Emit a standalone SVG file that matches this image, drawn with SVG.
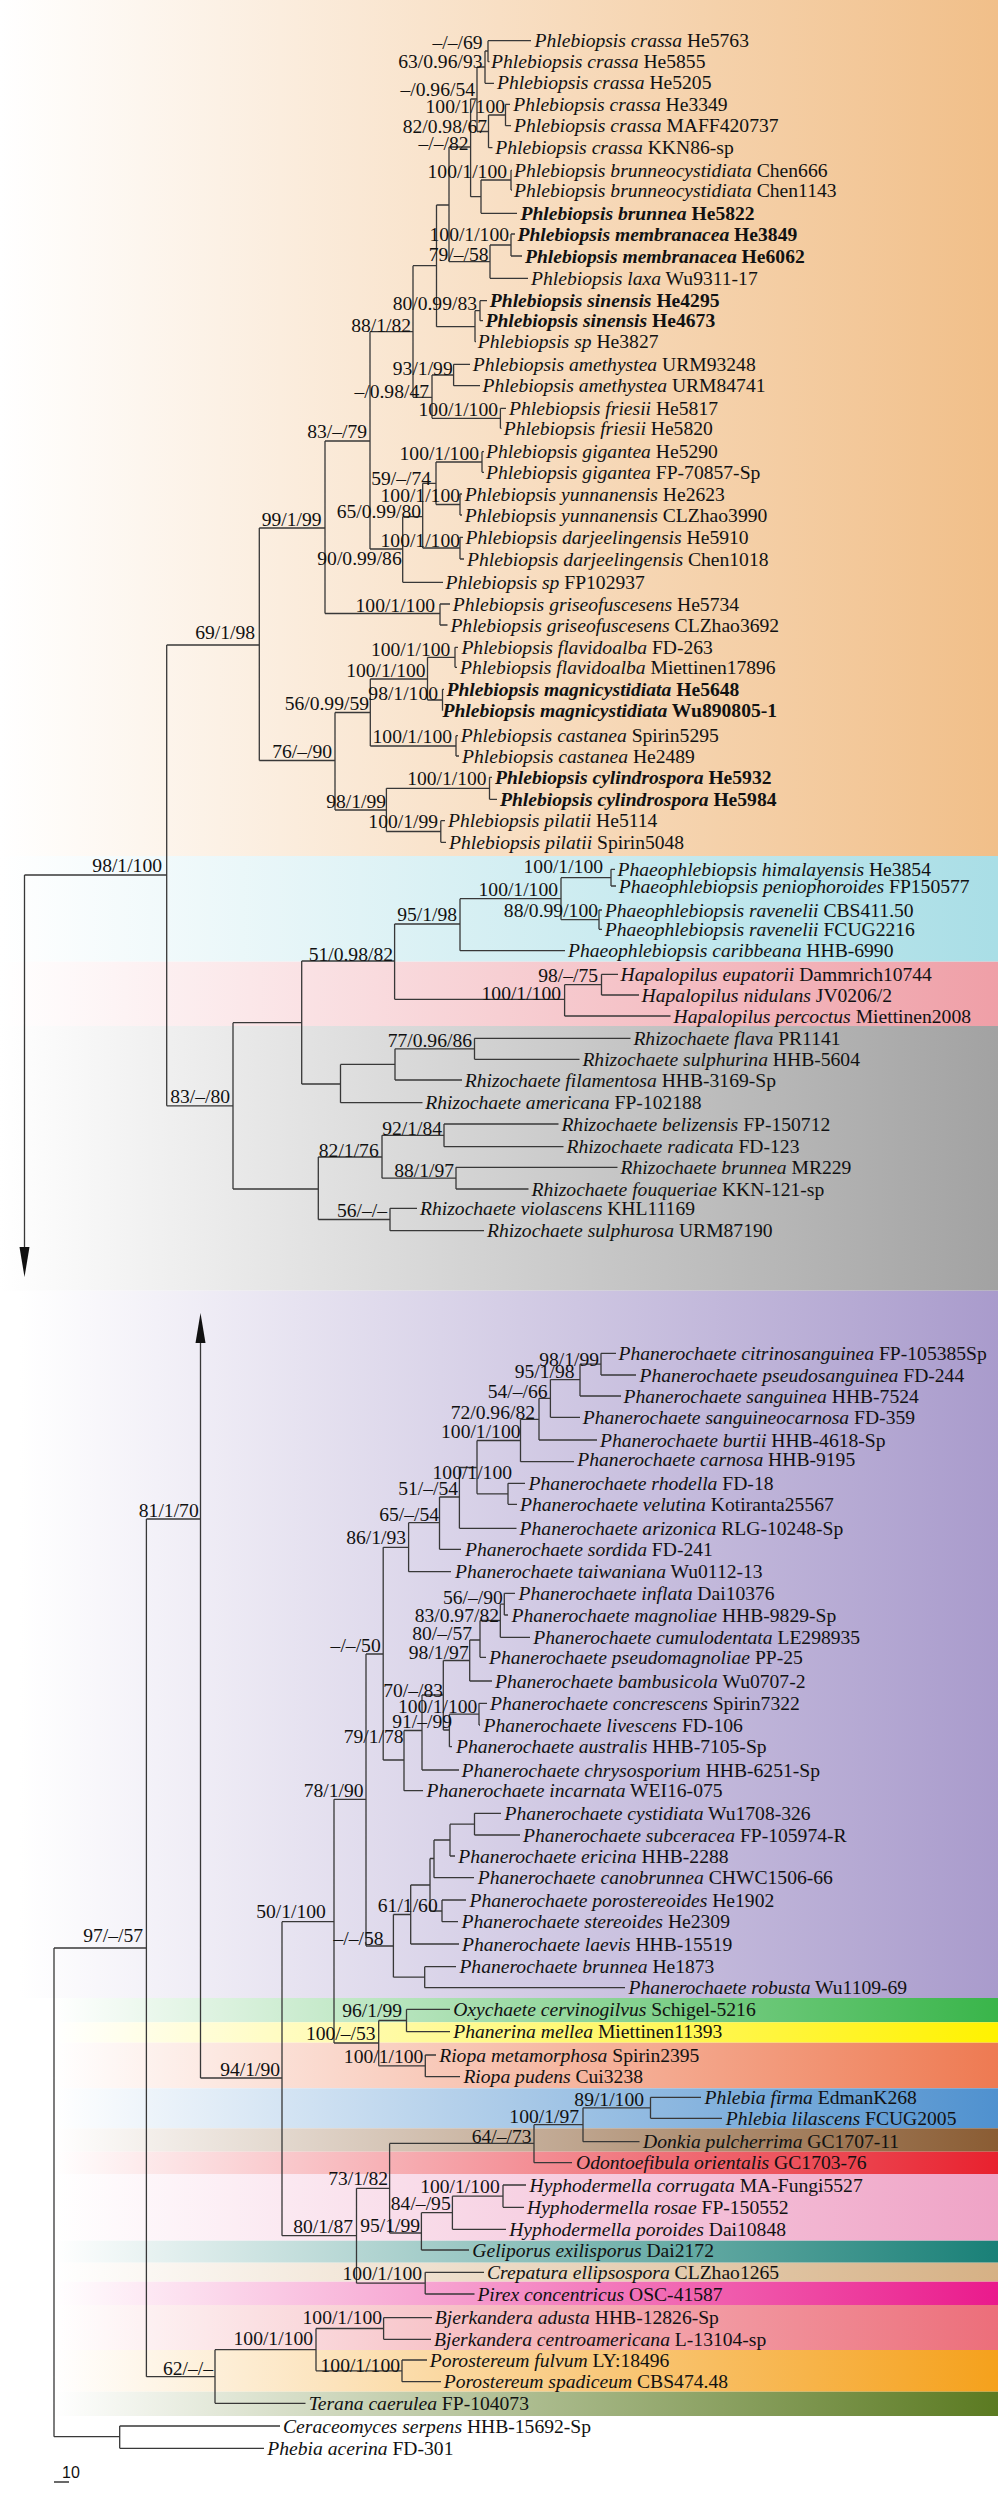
<svg xmlns="http://www.w3.org/2000/svg" width="998" height="2500" viewBox="0 0 998 2500">
<style>
.t{font-family:"Liberation Serif","Times New Roman",serif;font-size:19.6px;fill:#111}
.i{font-style:italic}
.b{font-weight:bold}
.s{font-family:"Liberation Serif","Times New Roman",serif;font-size:19.6px;fill:#111;text-anchor:end}
.c{fill:none;stroke:#383838;stroke-width:1.3}
</style>
<defs>
<linearGradient id="gOr" x1="0" x2="1" y1="0" y2="0"><stop offset="0" stop-color="#fff"/><stop offset="1" stop-color="#F1BF89"/></linearGradient>
<linearGradient id="gCy" x1="0" x2="1" y1="0" y2="0"><stop offset="0" stop-color="#fff"/><stop offset="1" stop-color="#A9DEE6"/></linearGradient>
<linearGradient id="gPk" x1="0" x2="1" y1="0" y2="0"><stop offset="0" stop-color="#fff"/><stop offset="1" stop-color="#EF9FA7"/></linearGradient>
<linearGradient id="gGy" x1="0" x2="1" y1="0" y2="0"><stop offset="0" stop-color="#fff"/><stop offset="1" stop-color="#A2A2A2"/></linearGradient>
<linearGradient id="gPu" x1="0" x2="1" y1="0" y2="0"><stop offset="0" stop-color="#fff"/><stop offset="1" stop-color="#A99BCC"/></linearGradient>
<linearGradient id="gGn" x1="0" x2="1" y1="0" y2="0"><stop offset="0" stop-color="#fff"/><stop offset="1" stop-color="#39B54A"/></linearGradient>
<linearGradient id="gYe" x1="0" x2="1" y1="0" y2="0"><stop offset="0" stop-color="#fff"/><stop offset="1" stop-color="#FFF200"/></linearGradient>
<linearGradient id="gSa" x1="0" x2="1" y1="0" y2="0"><stop offset="0" stop-color="#fff"/><stop offset="1" stop-color="#EE7A52"/></linearGradient>
<linearGradient id="gBl" x1="0" x2="1" y1="0" y2="0"><stop offset="0" stop-color="#fff"/><stop offset="1" stop-color="#4F91CF"/></linearGradient>
<linearGradient id="gBr" x1="0" x2="1" y1="0" y2="0"><stop offset="0" stop-color="#fff"/><stop offset="1" stop-color="#8A5C33"/></linearGradient>
<linearGradient id="gRd" x1="0" x2="1" y1="0" y2="0"><stop offset="0" stop-color="#fff"/><stop offset="1" stop-color="#E8212E"/></linearGradient>
<linearGradient id="gPi" x1="0" x2="1" y1="0" y2="0"><stop offset="0" stop-color="#fff"/><stop offset="1" stop-color="#EFA3C6"/></linearGradient>
<linearGradient id="gTe" x1="0" x2="1" y1="0" y2="0"><stop offset="0" stop-color="#fff"/><stop offset="1" stop-color="#198077"/></linearGradient>
<linearGradient id="gTa" x1="0" x2="1" y1="0" y2="0"><stop offset="0" stop-color="#fff"/><stop offset="1" stop-color="#D6B185"/></linearGradient>
<linearGradient id="gMa" x1="0" x2="1" y1="0" y2="0"><stop offset="0" stop-color="#fff"/><stop offset="1" stop-color="#EA1A8C"/></linearGradient>
<linearGradient id="gSp" x1="0" x2="1" y1="0" y2="0"><stop offset="0" stop-color="#fff"/><stop offset="1" stop-color="#EC6E7A"/></linearGradient>
<linearGradient id="gOa" x1="0" x2="1" y1="0" y2="0"><stop offset="0" stop-color="#fff"/><stop offset="1" stop-color="#F5A11C"/></linearGradient>
<linearGradient id="gOl" x1="0" x2="1" y1="0" y2="0"><stop offset="0" stop-color="#fff"/><stop offset="1" stop-color="#5B7A21"/></linearGradient>
</defs>
<rect width="998" height="2500" fill="#fff"/>
<g id="bands">
<rect x="0" y="0" width="998" height="856" fill="url(#gOr)"/>
<rect x="0" y="856" width="998" height="105.7" fill="url(#gCy)"/>
<rect x="0" y="961.7" width="998" height="64.3" fill="url(#gPk)"/>
<rect x="0" y="1026" width="998" height="264.7" fill="url(#gGy)"/>
<rect x="20" y="1290.7" width="978" height="707.3" fill="url(#gPu)"/>
<rect x="54" y="1998" width="944" height="24.3" fill="url(#gGn)"/>
<rect x="54" y="2022.3" width="944" height="20.4" fill="url(#gYe)"/>
<rect x="54" y="2042.7" width="944" height="45.6" fill="url(#gSa)"/>
<rect x="54" y="2088.3" width="944" height="40" fill="url(#gBl)"/>
<rect x="54" y="2128.3" width="944" height="23.4" fill="url(#gBr)"/>
<rect x="54" y="2151.7" width="944" height="22.3" fill="url(#gRd)"/>
<rect x="54" y="2174" width="944" height="66.7" fill="url(#gPi)"/>
<rect x="54" y="2240.7" width="944" height="22" fill="url(#gTe)"/>
<rect x="54" y="2262.7" width="944" height="19" fill="url(#gTa)"/>
<rect x="54" y="2281.7" width="944" height="23.3" fill="url(#gMa)"/>
<rect x="54" y="2305" width="944" height="45" fill="url(#gSp)"/>
<rect x="54" y="2350" width="944" height="41.7" fill="url(#gOa)"/>
<rect x="54" y="2391.7" width="944" height="24.3" fill="url(#gOl)"/>
</g>
<g id="connectors">
<path class="c" d="M24.5 875 V1248 M24.5 875 H166.7
M166.7 645 V1105.8 M166.7 645 H259.3 M166.7 1105.8 H233
M259.3 528 V760.5 M259.3 528 H325 M259.3 760.5 H335
M325 441 V613.5 M325 441 H370 M325 613.5 H440
M440 604 V625 M440 604 H450 M440 625 H447.5
M370 331.7 V549 M370 331.7 H413 M370 549 H402.7
M413 265.7 V397.3 M413 265.7 H436.5 M413 397.3 H432
M436.5 205 V326.7 M436.5 205 H449 M436.5 326.7 H475
M449 147 V261.7 M449 147 H470.6 M449 261.7 H490
M470.6 99 V196.7 M470.6 99 H477 M470.6 196.7 H481
M477 67 V131.5 M477 67 H485 M477 131.5 H488.5
M485 51 V83.3 M485 51 H488 M485 83.3 H494
M488 40.7 V61.7 M488 40.7 H531 M488 61.7 H489.5
M488.5 115 V147.7 M488.5 115 H505.5 M488.5 147.7 H492.5
M505.5 104.3 V125.7 M505.5 104.3 H510 M505.5 125.7 H511
M481 180 V213.3 M481 180 H511 M481 213.3 H517
M511 170.3 V190 M511 170.3 H512 M511 190 H512
M490 245 V278.3 M490 245 H511 M490 278.3 H528
M511 234 V256 M511 234 H515 M511 256 H522
M475 310.7 V341.7 M475 310.7 H480 M475 341.7 H476
M480 300.7 V320.7 M480 300.7 H487 M480 320.7 H483
M432 375 V418.3 M432 375 H453.6 M432 418.3 H500.4
M453.6 364.3 V385.7 M453.6 364.3 H470 M453.6 385.7 H480
M500.4 408.3 V428.3 M500.4 408.3 H506 M500.4 428.3 H501.5
M402.7 516.7 V582.3 M402.7 516.7 H422.7 M402.7 582.3 H443
M422.7 483.3 V548 M422.7 483.3 H436 M422.7 548 H460
M436 462 V504.5 M436 462 H482 M436 504.5 H460
M482 451.7 V472.3 M482 451.7 H484 M482 472.3 H484
M460 494 V515 M460 494 H462 M460 515 H462
M460 537.3 V559 M460 537.3 H463 M460 559 H464
M335 712.5 V810 M335 712.5 H370.3 M335 810 H386.4
M370.3 679 V746 M370.3 679 H427.5 M370.3 746 H456
M427.5 657.3 V700 M427.5 657.3 H455 M427.5 700 H442.5
M455 647.3 V667.3 M455 647.3 H458 M455 667.3 H457
M442.5 689.3 V710.7 M442.5 689.3 H444
M456 735.7 V756 M456 735.7 H458 M456 756 H459
M386.4 788.3 V831.5 M386.4 788.3 H489.5 M386.4 831.5 H440.8
M489.5 777.3 V799.3 M489.5 777.3 H492 M489.5 799.3 H497
M440.8 820.7 V842.3 M440.8 820.7 H445 M440.8 842.3 H446
M233 1022.7 V1189 M233 1022.7 H301.7 M233 1189 H318.3
M301.7 961 V1084 M301.7 961 H394.6 M301.7 1084 H340.5
M394.6 924 V999.3 M394.6 924 H460 M394.6 999.3 H564.6
M460 898.7 V950.7 M460 898.7 H561 M460 950.7 H565
M561 877.7 V919.7 M561 877.7 H611 M561 919.7 H599
M611 869.3 V886 M611 869.3 H615 M611 886 H616
M599 910 V929.3 M599 910 H602 M599 929.3 H602
M564.6 984.7 V1016 M564.6 984.7 H601.5 M564.6 1016 H670.5
M601.5 974.3 V995 M601.5 974.3 H618 M601.5 995 H639
M340.5 1064.4 V1102.7 M340.5 1064.4 H395 M340.5 1102.7 H422.5
M395 1048.8 V1080 M395 1048.8 H474.5 M395 1080 H462
M474.5 1038.3 V1059.3 M474.5 1038.3 H630.5 M474.5 1059.3 H579.5
M318.3 1157 V1219.5 M318.3 1157 H382 M318.3 1219.5 H390
M382 1135.3 V1178.2 M382 1135.3 H444 M382 1178.2 H456
M444 1124 V1146.7 M444 1124 H558.5 M444 1146.7 H563.5
M456 1167.3 V1189 M456 1167.3 H617.5 M456 1189 H528.5
M390 1208.3 V1230.7 M390 1208.3 H417 M390 1230.7 H484
M200.5 1342 V2078 M146.4 1519 H200.5 M200.5 2078 H282
M146.4 1519 V2376.7 M146.4 2376.7 H215
M54 1948 V2436.7 M54 1948 H146.4 M54 2436.7 H119.7
M119.7 2426 V2448.3 M119.7 2426 H280 M119.7 2448.3 H264
M282 1921.7 V2235.7 M282 1921.7 H334 M282 2235.7 H356.5
M334 1799.3 V2043 M334 1799.3 H366 M334 2043 H378.7
M366 1654 V1946 M366 1654 H383.2 M366 1946 H393.4
M383.2 1547.3 V1760 M383.2 1547.3 H408.6 M383.2 1760 H404
M408.6 1522.7 V1571.7 M408.6 1522.7 H439.5 M408.6 1571.7 H451
M439.5 1497 V1549.3 M439.5 1497 H459.4 M439.5 1549.3 H461
M459.4 1467.5 V1528.3 M459.4 1467.5 H477 M459.4 1528.3 H516.5
M477 1440.5 V1493.8 M477 1440.5 H520.5 M477 1493.8 H508
M508 1483.3 V1504.3 M508 1483.3 H525 M508 1504.3 H517
M520.5 1419.3 V1461.7 M520.5 1419.3 H539 M520.5 1461.7 H574
M539 1398.3 V1440 M539 1398.3 H550.4 M539 1440 H597
M550.4 1379.6 V1417.3 M550.4 1379.6 H580 M550.4 1417.3 H580
M580 1364.2 V1396 M580 1364.2 H601 M580 1396 H621
M601 1353.3 V1375 M601 1353.3 H616 M601 1375 H636
M404 1730.5 V1790.7 M404 1730.5 H422 M404 1790.7 H423
M422 1695 V1770 M422 1695 H443.3 M422 1770 H459
M443.3 1660.5 V1730 M443.3 1660.5 H469.7 M443.3 1730 H449.4
M469.7 1640 V1681 M469.7 1640 H480 M469.7 1681 H492
M480 1620.5 V1657.3 M480 1620.5 H500.3 M480 1657.3 H486
M500.3 1604.2 V1637.3 M500.3 1604.2 H504.3 M500.3 1637.3 H530
M504.3 1593.3 V1615 M504.3 1593.3 H515 M504.3 1615 H508
M449.4 1714.2 V1746.7 M449.4 1714.2 H479 M449.4 1746.7 H452
M479 1703.3 V1725 M479 1703.3 H487 M479 1725 H480
M393.4 1914.5 V1977.2 M393.4 1914.5 H410.7 M393.4 1977.2 H424.7
M410.7 1885 V1944 M410.7 1885 H430 M410.7 1944 H459
M430 1858.5 V1911 M430 1858.5 H434 M430 1911 H442
M434 1840 V1877.7 M434 1840 H450 M434 1877.7 H474
M450 1824.2 V1856 M450 1824.2 H474.5 M450 1856 H455
M474.5 1813.3 V1835 M474.5 1813.3 H501 M474.5 1835 H520
M442 1900 V1921.7 M442 1900 H466 M442 1921.7 H458
M424.7 1966.7 V1987.7 M424.7 1966.7 H456 M424.7 1987.7 H625
M378.7 2020.5 V2065.8 M378.7 2020.5 H406.5 M378.7 2065.8 H425.3
M406.5 2009.3 V2031.7 M406.5 2009.3 H450 M406.5 2031.7 H450
M425.3 2055 V2076.7 M425.3 2055 H436 M425.3 2076.7 H460
M356.5 2188.3 V2283.2 M356.5 2188.3 H389.6 M356.5 2283.2 H425.2
M389.6 2143.4 V2233 M389.6 2143.4 H534 M389.6 2233 H421.4
M534 2124.7 V2162.7 M534 2124.7 H583 M534 2162.7 H572
M583 2107.8 V2141.7 M583 2107.8 H650.5 M583 2141.7 H639.5
M650.5 2097.3 V2118.3 M650.5 2097.3 H701 M650.5 2118.3 H722
M421.4 2212.7 V2250 M421.4 2212.7 H452.4 M421.4 2250 H469
M452.4 2196.2 V2229.3 M452.4 2196.2 H503 M452.4 2229.3 H506
M503 2185 V2207.3 M503 2185 H526 M503 2207.3 H524
M425.2 2272.3 V2294 M425.2 2272.3 H484 M425.2 2294 H474.5
M215 2349.7 V2403.3 M215 2349.7 H316 M215 2403.3 H305.5
M316 2328.5 V2370.8 M316 2328.5 H383.6 M316 2370.8 H402
M383.6 2317.7 V2339.3 M383.6 2317.7 H432 M383.6 2339.3 H431
M402 2360 V2381.7 M402 2360 H427 M402 2381.7 H441
M54 2482 H69"/>
<polygon points="19.5,1247 29.5,1247 24.5,1277" fill="#111"/>
<polygon points="195.5,1343 205.5,1343 200.5,1313" fill="#111"/>
</g>
<g id="leaves">
<g id="L1"><text class="t" x="534.5" y="47.2"><tspan class="i">Phlebiopsis crassa</tspan> He5763</text></g>
<g id="L2"><text class="t" x="491" y="68.2"><tspan class="i">Phlebiopsis crassa</tspan> He5855</text></g>
<g id="L3"><text class="t" x="497" y="88.8"><tspan class="i">Phlebiopsis crassa</tspan> He5205</text></g>
<g id="L4"><text class="t" x="513.2" y="110.8"><tspan class="i">Phlebiopsis crassa</tspan> He3349</text></g>
<g id="L5"><text class="t" x="514" y="132.2"><tspan class="i">Phlebiopsis crassa</tspan> MAFF420737</text></g>
<g id="L6"><text class="t" x="495.3" y="154.2"><tspan class="i">Phlebiopsis crassa</tspan> KKN86-sp</text></g>
<g id="L7"><text class="t" x="514" y="176.8"><tspan class="i">Phlebiopsis brunneocystidiata</tspan> Chen666</text></g>
<g id="L8"><text class="t" x="514" y="196.5"><tspan class="i">Phlebiopsis brunneocystidiata</tspan> Chen1143</text></g>
<g id="L9"><text class="t b" x="520.5" y="219.8"><tspan class="i">Phlebiopsis brunnea</tspan> He5822</text></g>
<g id="L10"><text class="t b" x="517.5" y="240.5"><tspan class="i">Phlebiopsis membranacea</tspan> He3849</text></g>
<g id="L11"><text class="t b" x="525" y="262.5"><tspan class="i">Phlebiopsis membranacea</tspan> He6062</text></g>
<g id="L12"><text class="t" x="531" y="284.8"><tspan class="i">Phlebiopsis laxa</tspan> Wu9311-17</text></g>
<g id="L13"><text class="t b" x="489.8" y="307.2"><tspan class="i">Phlebiopsis sinensis</tspan> He4295</text></g>
<g id="L14"><text class="t b" x="485.5" y="327.2"><tspan class="i">Phlebiopsis sinensis</tspan> He4673</text></g>
<g id="L15"><text class="t" x="477.8" y="348.2"><tspan class="i">Phlebiopsis sp</tspan> He3827</text></g>
<g id="L16"><text class="t" x="472.7" y="370.8"><tspan class="i">Phlebiopsis amethystea</tspan> URM93248</text></g>
<g id="L17"><text class="t" x="482.5" y="392.2"><tspan class="i">Phlebiopsis amethystea</tspan> URM84741</text></g>
<g id="L18"><text class="t" x="509" y="414.8"><tspan class="i">Phlebiopsis friesii</tspan> He5817</text></g>
<g id="L19"><text class="t" x="503.8" y="434.8"><tspan class="i">Phlebiopsis friesii</tspan> He5820</text></g>
<g id="L20"><text class="t" x="486" y="458.2"><tspan class="i">Phlebiopsis gigantea</tspan> He5290</text></g>
<g id="L21"><text class="t" x="486" y="478.8"><tspan class="i">Phlebiopsis gigantea</tspan> FP-70857-Sp</text></g>
<g id="L22"><text class="t" x="464.7" y="500.5"><tspan class="i">Phlebiopsis yunnanensis</tspan> He2623</text></g>
<g id="L23"><text class="t" x="464.7" y="521.5"><tspan class="i">Phlebiopsis yunnanensis</tspan> CLZhao3990</text></g>
<g id="L24"><text class="t" x="465.6" y="543.8"><tspan class="i">Phlebiopsis darjeelingensis</tspan> He5910</text></g>
<g id="L25"><text class="t" x="467" y="565.5"><tspan class="i">Phlebiopsis darjeelingensis</tspan> Chen1018</text></g>
<g id="L26"><text class="t" x="445.6" y="588.8"><tspan class="i">Phlebiopsis sp</tspan> FP102937</text></g>
<g id="L27"><text class="t" x="452.8" y="610.5"><tspan class="i">Phlebiopsis griseofuscesens</tspan> He5734</text></g>
<g id="L28"><text class="t" x="450.4" y="631.5"><tspan class="i">Phlebiopsis griseofuscesens</tspan> CLZhao3692</text></g>
<g id="L29"><text class="t" x="461.4" y="653.8"><tspan class="i">Phlebiopsis flavidoalba</tspan> FD-263</text></g>
<g id="L30"><text class="t" x="460" y="673.8"><tspan class="i">Phlebiopsis flavidoalba</tspan> Miettinen17896</text></g>
<g id="L31"><text class="t b" x="446.5" y="695.8"><tspan class="i">Phlebiopsis magnicystidiata</tspan> He5648</text></g>
<g id="L32"><text class="t b" x="442.5" y="717.2"><tspan class="i">Phlebiopsis magnicystidiata</tspan> Wu890805-1</text></g>
<g id="L33"><text class="t" x="460.8" y="742.2"><tspan class="i">Phlebiopsis castanea</tspan> Spirin5295</text></g>
<g id="L34"><text class="t" x="462" y="762.5"><tspan class="i">Phlebiopsis castanea</tspan> He2489</text></g>
<g id="L35"><text class="t b" x="495" y="783.8"><tspan class="i">Phlebiopsis cylindrospora</tspan> He5932</text></g>
<g id="L36"><text class="t b" x="500" y="805.8"><tspan class="i">Phlebiopsis cylindrospora</tspan> He5984</text></g>
<g id="L37"><text class="t" x="448" y="827.2"><tspan class="i">Phlebiopsis pilatii</tspan> He5114</text></g>
<g id="L38"><text class="t" x="449" y="848.8"><tspan class="i">Phlebiopsis pilatii</tspan> Spirin5048</text></g>
<g id="L39"><text class="t" x="617.5" y="875.8"><tspan class="i">Phaeophlebiopsis himalayensis</tspan> He3854</text></g>
<g id="L40"><text class="t" x="618.7" y="892.5"><tspan class="i">Phaeophlebiopsis peniophoroides</tspan> FP150577</text></g>
<g id="L41"><text class="t" x="604.7" y="916.5"><tspan class="i">Phaeophlebiopsis ravenelii</tspan> CBS411.50</text></g>
<g id="L42"><text class="t" x="604.7" y="935.8"><tspan class="i">Phaeophlebiopsis ravenelii</tspan> FCUG2216</text></g>
<g id="L43"><text class="t" x="568" y="957.2"><tspan class="i">Phaeophlebiopsis caribbeana</tspan> HHB-6990</text></g>
<g id="L44"><text class="t" x="620.6" y="980.8"><tspan class="i">Hapalopilus eupatorii</tspan> Dammrich10744</text></g>
<g id="L45"><text class="t" x="641.6" y="1001.5"><tspan class="i">Hapalopilus nidulans</tspan> JV0206/2</text></g>
<g id="L46"><text class="t" x="673.5" y="1022.5"><tspan class="i">Hapalopilus percoctus</tspan> Miettinen2008</text></g>
<g id="L47"><text class="t" x="633.4" y="1044.8"><tspan class="i">Rhizochaete flava</tspan> PR1141</text></g>
<g id="L48"><text class="t" x="582.4" y="1065.8"><tspan class="i">Rhizochaete sulphurina</tspan> HHB-5604</text></g>
<g id="L49"><text class="t" x="464.7" y="1086.5"><tspan class="i">Rhizochaete filamentosa</tspan> HHB-3169-Sp</text></g>
<g id="L50"><text class="t" x="425.2" y="1109.2"><tspan class="i">Rhizochaete americana</tspan> FP-102188</text></g>
<g id="L51"><text class="t" x="561.4" y="1130.5"><tspan class="i">Rhizochaete belizensis</tspan> FP-150712</text></g>
<g id="L52"><text class="t" x="566.5" y="1153.2"><tspan class="i">Rhizochaete radicata</tspan> FD-123</text></g>
<g id="L53"><text class="t" x="620.6" y="1173.8"><tspan class="i">Rhizochaete brunnea</tspan> MR229</text></g>
<g id="L54"><text class="t" x="531.5" y="1195.5"><tspan class="i">Rhizochaete fouqueriae</tspan> KKN-121-sp</text></g>
<g id="L55"><text class="t" x="420" y="1214.8"><tspan class="i">Rhizochaete violascens</tspan> KHL11169</text></g>
<g id="L56"><text class="t" x="487" y="1237.2"><tspan class="i">Rhizochaete sulphurosa</tspan> URM87190</text></g>
<g id="L57"><text class="t" x="618.5" y="1359.8"><tspan class="i">Phanerochaete citrinosanguinea</tspan> FP-105385Sp</text></g>
<g id="L58"><text class="t" x="639.5" y="1381.5"><tspan class="i">Phanerochaete pseudosanguinea</tspan> FD-244</text></g>
<g id="L59"><text class="t" x="623.5" y="1402.5"><tspan class="i">Phanerochaete sanguinea</tspan> HHB-7524</text></g>
<g id="L60"><text class="t" x="582.7" y="1423.8"><tspan class="i">Phanerochaete sanguineocarnosa</tspan> FD-359</text></g>
<g id="L61"><text class="t" x="600" y="1446.5"><tspan class="i">Phanerochaete burtii</tspan> HHB-4618-Sp</text></g>
<g id="L62"><text class="t" x="577.3" y="1465.5"><tspan class="i">Phanerochaete carnosa</tspan> HHB-9195</text></g>
<g id="L63"><text class="t" x="528.6" y="1489.8"><tspan class="i">Phanerochaete rhodella</tspan> FD-18</text></g>
<g id="L64"><text class="t" x="520" y="1510.8"><tspan class="i">Phanerochaete velutina</tspan> Kotiranta25567</text></g>
<g id="L65"><text class="t" x="519.6" y="1534.8"><tspan class="i">Phanerochaete arizonica</tspan> RLG-10248-Sp</text></g>
<g id="L66"><text class="t" x="465" y="1555.8"><tspan class="i">Phanerochaete sordida</tspan> FD-241</text></g>
<g id="L67"><text class="t" x="455" y="1578.2"><tspan class="i">Phanerochaete taiwaniana</tspan> Wu0112-13</text></g>
<g id="L68"><text class="t" x="518.5" y="1599.8"><tspan class="i">Phanerochaete inflata</tspan> Dai10376</text></g>
<g id="L69"><text class="t" x="511.5" y="1621.5"><tspan class="i">Phanerochaete magnoliae</tspan> HHB-9829-Sp</text></g>
<g id="L70"><text class="t" x="533.3" y="1643.8"><tspan class="i">Phanerochaete cumulodentata</tspan> LE298935</text></g>
<g id="L71"><text class="t" x="489" y="1663.8"><tspan class="i">Phanerochaete pseudomagnoliae</tspan> PP-25</text></g>
<g id="L72"><text class="t" x="495" y="1687.5"><tspan class="i">Phanerochaete bambusicola</tspan> Wu0707-2</text></g>
<g id="L73"><text class="t" x="490" y="1709.8"><tspan class="i">Phanerochaete concrescens</tspan> Spirin7322</text></g>
<g id="L74"><text class="t" x="483.5" y="1731.5"><tspan class="i">Phanerochaete livescens</tspan> FD-106</text></g>
<g id="L75"><text class="t" x="456" y="1753.2"><tspan class="i">Phanerochaete australis</tspan> HHB-7105-Sp</text></g>
<g id="L76"><text class="t" x="461.5" y="1776.5"><tspan class="i">Phanerochaete chrysosporium</tspan> HHB-6251-Sp</text></g>
<g id="L77"><text class="t" x="426.5" y="1797.2"><tspan class="i">Phanerochaete incarnata</tspan> WEI16-075</text></g>
<g id="L78"><text class="t" x="504.5" y="1819.8"><tspan class="i">Phanerochaete cystidiata</tspan> Wu1708-326</text></g>
<g id="L79"><text class="t" x="523" y="1841.5"><tspan class="i">Phanerochaete subceracea</tspan> FP-105974-R</text></g>
<g id="L80"><text class="t" x="458.3" y="1862.5"><tspan class="i">Phanerochaete ericina</tspan> HHB-2288</text></g>
<g id="L81"><text class="t" x="477.7" y="1884.2"><tspan class="i">Phanerochaete canobrunnea</tspan> CHWC1506-66</text></g>
<g id="L82"><text class="t" x="469.5" y="1906.5"><tspan class="i">Phanerochaete porostereoides</tspan> He1902</text></g>
<g id="L83"><text class="t" x="461.5" y="1928.2"><tspan class="i">Phanerochaete stereoides</tspan> He2309</text></g>
<g id="L84"><text class="t" x="462" y="1950.5"><tspan class="i">Phanerochaete laevis</tspan> HHB-15519</text></g>
<g id="L85"><text class="t" x="459.4" y="1973.2"><tspan class="i">Phanerochaete brunnea</tspan> He1873</text></g>
<g id="L86"><text class="t" x="628.6" y="1994.2"><tspan class="i">Phanerochaete robusta</tspan> Wu1109-69</text></g>
<g id="L87"><text class="t" x="453.2" y="2015.8"><tspan class="i">Oxychaete cervinogilvus</tspan> Schigel-5216</text></g>
<g id="L88"><text class="t" x="453.2" y="2038.2"><tspan class="i">Phanerina mellea</tspan> Miettinen11393</text></g>
<g id="L89"><text class="t" x="439.2" y="2061.5"><tspan class="i">Riopa metamorphosa</tspan> Spirin2395</text></g>
<g id="L90"><text class="t" x="463.4" y="2083.2"><tspan class="i">Riopa pudens</tspan> Cui3238</text></g>
<g id="L91"><text class="t" x="704.6" y="2103.8"><tspan class="i">Phlebia firma</tspan> EdmanK268</text></g>
<g id="L92"><text class="t" x="725.7" y="2124.8"><tspan class="i">Phlebia lilascens</tspan> FCUG2005</text></g>
<g id="L93"><text class="t" x="643" y="2148.2"><tspan class="i">Donkia pulcherrima</tspan> GC1707-11</text></g>
<g id="L94"><text class="t" x="576" y="2169.2"><tspan class="i">Odontoefibula orientalis</tspan> GC1703-76</text></g>
<g id="L95"><text class="t" x="529.6" y="2191.5"><tspan class="i">Hyphodermella corrugata</tspan> MA-Fungi5527</text></g>
<g id="L96"><text class="t" x="527" y="2213.8"><tspan class="i">Hyphodermella rosae</tspan> FP-150552</text></g>
<g id="L97"><text class="t" x="509.2" y="2235.8"><tspan class="i">Hyphodermella poroides</tspan> Dai10848</text></g>
<g id="L98"><text class="t" x="472.3" y="2256.5"><tspan class="i">Geliporus exilisporus</tspan> Dai2172</text></g>
<g id="L99"><text class="t" x="487" y="2278.8"><tspan class="i">Crepatura ellipsospora</tspan> CLZhao1265</text></g>
<g id="L100"><text class="t" x="477.4" y="2300.5"><tspan class="i">Pirex concentricus</tspan> OSC-41587</text></g>
<g id="L101"><text class="t" x="434.8" y="2324.2"><tspan class="i">Bjerkandera adusta</tspan> HHB-12826-Sp</text></g>
<g id="L102"><text class="t" x="434" y="2345.8"><tspan class="i">Bjerkandera centroamericana</tspan> L-13104-sp</text></g>
<g id="L103"><text class="t" x="429.7" y="2366.5"><tspan class="i">Porostereum fulvum</tspan> LY:18496</text></g>
<g id="L104"><text class="t" x="443.7" y="2388.2"><tspan class="i">Porostereum spadiceum</tspan> CBS474.48</text></g>
<g id="L105"><text class="t" x="308.7" y="2409.8"><tspan class="i">Terana caerulea</tspan> FP-104073</text></g>
<g id="L106"><text class="t" x="283" y="2432.5"><tspan class="i">Ceraceomyces serpens</tspan> HHB-15692-Sp</text></g>
<g id="L107"><text class="t" x="267.3" y="2454.8"><tspan class="i">Phebia acerina</tspan> FD-301</text></g>
</g>
<g id="supports">
<g id="n1"><text class="s" x="482.5" y="49.2">–/–/69</text></g>
<g id="n2"><text class="s" x="482.5" y="68.2">63/0.96/93</text></g>
<g id="n3"><text class="s" x="475" y="95.8">–/0.96/54</text></g>
<g id="n4"><text class="s" x="505" y="113.2">100/1/100</text></g>
<g id="n5"><text class="s" x="487" y="132.5">82/0.98/67</text></g>
<g id="n6"><text class="s" x="468.5" y="149.5">–/–/82</text></g>
<g id="n7"><text class="s" x="507" y="178.2">100/1/100</text></g>
<g id="n8"><text class="s" x="509" y="240.5">100/1/100</text></g>
<g id="n9"><text class="s" x="488.5" y="260.5">79/–/58</text></g>
<g id="n10"><text class="s" x="477" y="309.8">80/0.99/83</text></g>
<g id="n11"><text class="s" x="411" y="331.5">88/1/82</text></g>
<g id="n12"><text class="s" x="452.7" y="374.8">93/1/99</text></g>
<g id="n13"><text class="s" x="429" y="398.2">–/0.98/47</text></g>
<g id="n14"><text class="s" x="498" y="415.8">100/1/100</text></g>
<g id="n15"><text class="s" x="367" y="437.5">83/–/79</text></g>
<g id="n16"><text class="s" x="479" y="459.8">100/1/100</text></g>
<g id="n17"><text class="s" x="431" y="484.8">59/–/74</text></g>
<g id="n18"><text class="s" x="460" y="501.5">100/1/100</text></g>
<g id="n19"><text class="s" x="421" y="518.2">65/0.99/80</text></g>
<g id="n20"><text class="s" x="321.6" y="525.8">99/1/99</text></g>
<g id="n21"><text class="s" x="460" y="546.5">100/1/100</text></g>
<g id="n22"><text class="s" x="401.7" y="564.8">90/0.99/86</text></g>
<g id="n23"><text class="s" x="435" y="611.5">100/1/100</text></g>
<g id="n24"><text class="s" x="255" y="639.2">69/1/98</text></g>
<g id="n25"><text class="s" x="450.4" y="655.5">100/1/100</text></g>
<g id="n26"><text class="s" x="425.6" y="676.5">100/1/100</text></g>
<g id="n27"><text class="s" x="438" y="699.8">98/1/100</text></g>
<g id="n28"><text class="s" x="369" y="709.8">56/0.99/59</text></g>
<g id="n29"><text class="s" x="452" y="743.2">100/1/100</text></g>
<g id="n30"><text class="s" x="332" y="758.2">76/–/90</text></g>
<g id="n31"><text class="s" x="486.6" y="784.8">100/1/100</text></g>
<g id="n32"><text class="s" x="386" y="808.2">98/1/99</text></g>
<g id="n33"><text class="s" x="438" y="828.2">100/1/99</text></g>
<g id="n34"><text class="s" x="162" y="871.5">98/1/100</text></g>
<g id="n35"><text class="s" x="603" y="873.2">100/1/100</text></g>
<g id="n36"><text class="s" x="558" y="895.8">100/1/100</text></g>
<g id="n37"><text class="s" x="457" y="920.5">95/1/98</text></g>
<g id="n38"><text class="s" x="598" y="916.5">88/0.99/100</text></g>
<g id="n39"><text class="s" x="393" y="960.5">51/0.98/82</text></g>
<g id="n40"><text class="s" x="598" y="981.5">98/–/75</text></g>
<g id="n41"><text class="s" x="561" y="999.8">100/1/100</text></g>
<g id="n42"><text class="s" x="472" y="1046.5">77/0.96/86</text></g>
<g id="n43"><text class="s" x="230" y="1102.5">83/–/80</text></g>
<g id="n44"><text class="s" x="442" y="1134.8">92/1/84</text></g>
<g id="n45"><text class="s" x="378.7" y="1156.5">82/1/76</text></g>
<g id="n46"><text class="s" x="454" y="1176.5">88/1/97</text></g>
<g id="n47"><text class="s" x="387" y="1216.5">56/–/–</text></g>
<g id="n48"><text class="s" x="198.7" y="1516.5">81/1/70</text></g>
<g id="n49"><text class="s" x="599" y="1365.8">98/1/99</text></g>
<g id="n50"><text class="s" x="574.5" y="1378.2">95/1/98</text></g>
<g id="n51"><text class="s" x="547.5" y="1398.2">54/–/66</text></g>
<g id="n52"><text class="s" x="535" y="1419.2">72/0.96/82</text></g>
<g id="n53"><text class="s" x="520.5" y="1438.2">100/1/100</text></g>
<g id="n54"><text class="s" x="512" y="1479.2">100/1/100</text></g>
<g id="n55"><text class="s" x="458" y="1494.8">51/–/54</text></g>
<g id="n56"><text class="s" x="439" y="1520.5">65/–/54</text></g>
<g id="n57"><text class="s" x="406" y="1543.8">86/1/93</text></g>
<g id="n58"><text class="s" x="502.8" y="1603.8">56/–/90</text></g>
<g id="n59"><text class="s" x="499" y="1621.5">83/0.97/82</text></g>
<g id="n60"><text class="s" x="472" y="1639.8">80/–/57</text></g>
<g id="n61"><text class="s" x="380.7" y="1651.5">–/–/50</text></g>
<g id="n62"><text class="s" x="468.7" y="1659.2">98/1/97</text></g>
<g id="n63"><text class="s" x="443" y="1696.5">70/–/83</text></g>
<g id="n64"><text class="s" x="477.4" y="1713.2">100/1/100</text></g>
<g id="n65"><text class="s" x="452" y="1728.2">91/–/99</text></g>
<g id="n66"><text class="s" x="403.6" y="1743.2">79/1/78</text></g>
<g id="n67"><text class="s" x="363.6" y="1797.2">78/1/90</text></g>
<g id="n68"><text class="s" x="437.7" y="1911.5">61/1/60</text></g>
<g id="n69"><text class="s" x="325.8" y="1918.2">50/1/100</text></g>
<g id="n70"><text class="s" x="383.6" y="1944.8">–/–/58</text></g>
<g id="n71"><text class="s" x="143" y="1942">97/–/57</text></g>
<g id="n72"><text class="s" x="402" y="2017.2">96/1/99</text></g>
<g id="n73"><text class="s" x="375.6" y="2039.8">100/–/53</text></g>
<g id="n74"><text class="s" x="423.3" y="2062.5">100/1/100</text></g>
<g id="n75"><text class="s" x="280" y="2075.8">94/1/90</text></g>
<g id="n76"><text class="s" x="644" y="2105.8">89/1/100</text></g>
<g id="n77"><text class="s" x="579" y="2122.5">100/1/97</text></g>
<g id="n78"><text class="s" x="531.5" y="2143.2">64/–/73</text></g>
<g id="n79"><text class="s" x="388" y="2184.8">73/1/82</text></g>
<g id="n80"><text class="s" x="499.7" y="2193.2">100/1/100</text></g>
<g id="n81"><text class="s" x="450.7" y="2209.8">84/–/95</text></g>
<g id="n82"><text class="s" x="420" y="2231.5">95/1/99</text></g>
<g id="n83"><text class="s" x="353" y="2232.5">80/1/87</text></g>
<g id="n84"><text class="s" x="422" y="2279.8">100/1/100</text></g>
<g id="n85"><text class="s" x="382" y="2324.2">100/1/100</text></g>
<g id="n86"><text class="s" x="313" y="2344.8">100/1/100</text></g>
<g id="n87"><text class="s" x="400" y="2371.5">100/1/100</text></g>
<g id="n88"><text class="s" x="213" y="2374.8">62/–/–</text></g>
</g>
<g id="scale"><text x="62" y="2478" style="font-family:'Liberation Sans',Arial,sans-serif;font-size:16px;fill:#111">10</text></g>
</svg>
